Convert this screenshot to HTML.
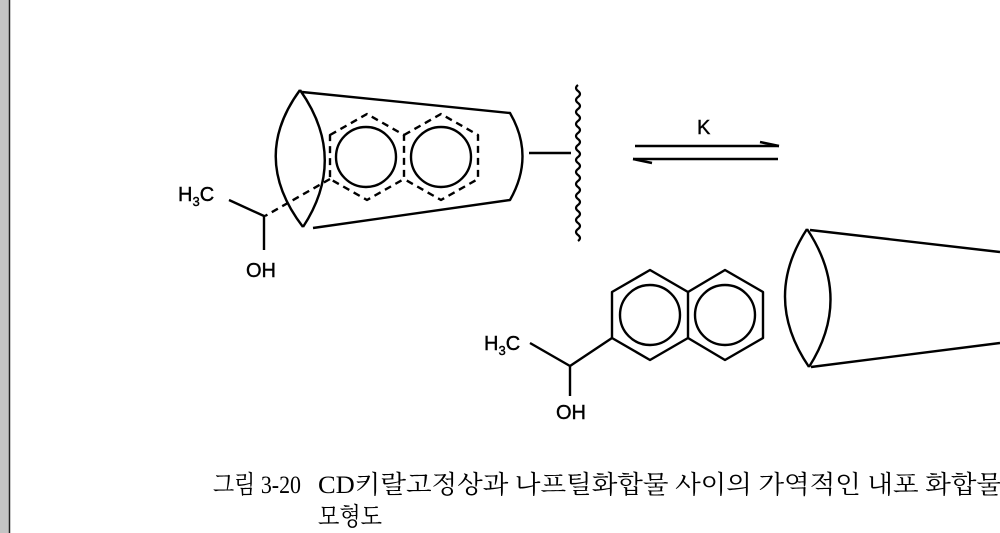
<!DOCTYPE html>
<html><head><meta charset="utf-8"><style>
html,body{margin:0;padding:0;background:#fff;}
body{width:1000px;height:533px;overflow:hidden;position:relative;}
</style></head><body>
<svg width="1000" height="533" viewBox="0 0 1000 533" xmlns="http://www.w3.org/2000/svg" style="position:absolute;left:0;top:0">
<rect x="0" y="0" width="9" height="533" fill="#c4c4c4"/>
<line x1="9.5" y1="0" x2="9.5" y2="533" stroke="#222" stroke-width="1.5"/>
<g fill="none" stroke="#000" stroke-width="2.4" stroke-linejoin="round">
<path d="M300,90 Q250,158 303,227"/>
<path d="M300,90 Q348,158 303,227"/>
<path d="M302,92 L510,113 Q535,156 510,200 L313,228"/>
<line x1="529" y1="153" x2="571" y2="153"/>
<path d="M578,85 q-4,3 0,6 q4,3 0,6 q-4,3 0,6 q4,3 0,6 q-4,3 0,6 q4,3 0,6 q-4,3 0,6 q4,3 0,6 q-4,3 0,6 q4,3 0,6 q-4,3 0,6 q4,3 0,6 q-4,3 0,6 q4,3 0,6 q-4,3 0,6 q4,3 0,6 q-4,3 0,6 q4,3 0,6 q-4,3 0,6 q4,3 0,6 q-4,3 0,6 q4,3 0,6 q-4,3 0,6 q4,3 0,6 q-4,3 0,6 q4,3 0,6" stroke-width="2.2"/>
<g stroke-dasharray="7,5">
<path d="M330,135 L367,114 L404,135 L404,179 L367,200 L330,179 Z"/>
<path d="M404,135 L441,114 L478,135 L478,179 L441,200 L404,179"/>
<line x1="330" y1="179" x2="265" y2="216"/>
</g>
<circle cx="366" cy="157" r="30"/>
<circle cx="441" cy="157" r="30"/>
<polyline points="229,200 264,216 264,250"/>
<line x1="635" y1="146" x2="779" y2="146"/>
<path d="M760,142 L779,146" stroke-width="2.5"/>
<line x1="633" y1="159" x2="778" y2="159"/>
<path d="M652,163 L633,159" stroke-width="2.5"/>
<path d="M612,292 L650,270 L688,292 L688,338 L650,360 L612,338 Z"/>
<path d="M688,292 L725,270 L763,292 L763,338 L725,360 L688,338"/>
<circle cx="650" cy="315" r="30"/>
<circle cx="725" cy="315" r="30"/>
<polyline points="530,343 570,366 612,338"/>
<line x1="570" y1="366" x2="570" y2="396"/>
<path d="M807,229 Q762,298 809,367"/>
<path d="M807,229 Q853,298 809,367"/>
<line x1="810" y1="230" x2="1000" y2="252"/>
<line x1="811" y1="367" x2="1000" y2="343"/>
</g>
<g font-family="'Liberation Sans',sans-serif" font-size="20" fill="#000" stroke="#000" stroke-width="0.4">
<text x="178" y="201">H<tspan font-size="13" dy="5">3</tspan><tspan dy="-5">C</tspan></text>
<text x="246" y="277">OH</text>
<text x="697" y="134">K</text>
<text x="484" y="350">H<tspan font-size="13" dy="5">3</tspan><tspan dy="-5">C</tspan></text>
<text x="556" y="419">OH</text>
</g>
<g font-family="'Liberation Serif','Noto Serif CJK SC','Noto Sans CJK KR',serif" font-size="25" fill="#000">
<text x="213" y="493" textLength="88" lengthAdjust="spacingAndGlyphs">그림 3-20</text>
<text x="318" y="493" textLength="684" lengthAdjust="spacingAndGlyphs">CD키랄고정상과 나프틸화합물 사이의 가역적인 내포 화합물</text>
<text x="318" y="525" textLength="64" lengthAdjust="spacingAndGlyphs">모형도</text>
</g>
</svg>
</body></html>
